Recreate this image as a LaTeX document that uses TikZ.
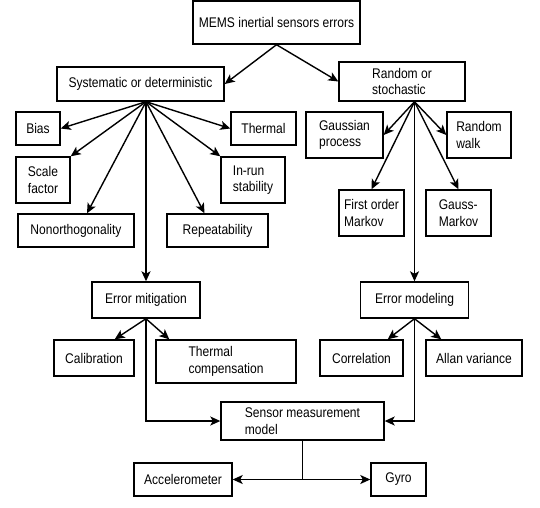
\documentclass[tikz,border=0pt]{standalone}
\usepackage{fontspec}
\setmainfont{Liberation Sans}[FakeStretch=0.86]
\usetikzlibrary{arrows.meta}
\begin{document}
\begin{tikzpicture}[x=1pt,y=-1pt,
  box/.style={draw, line width=1.4pt, inner sep=0pt, align=left, font=\fontsize{14}{16.5}\selectfont},
  conn/.style={line width=1.4pt},
  arr/.style={conn, -{Stealth[length=10pt,width=9pt,inset=2.5pt]}}]
\useasboundingbox (0,0) rectangle (540,507);
% nodes
\node[box, minimum width=167, minimum height=43] (top) at (276.5,22.5) {MEMS inertial sensors errors};
\node[box, minimum width=167, minimum height=34] (sys) at (140.5,84) {Systematic or deterministic};
\node[box, minimum width=126, minimum height=39] (rand) at (402,81.5) {Random or\\stochastic};
\node[box, minimum width=44, minimum height=33] (bias) at (38,128.5) {Bias};
\node[box, minimum width=65, minimum height=33] (therm) at (263.5,128.5) {Thermal};
\node[box, minimum width=54, minimum height=46] (scale) at (43,180) {Scale\\factor};
\node[box, minimum width=64, minimum height=46] (inrun) at (253,180) {In-run\\stability};
\node[box, minimum width=116, minimum height=33] (nonorth) at (76,230.5) {Nonorthogonality};
\node[box, minimum width=101, minimum height=33] (rep) at (217.5,230.5) {Repeatability};
\node[box, minimum width=77, minimum height=46] (gauss) at (344.5,135) {Gaussian\\process};
\node[box, minimum width=64, minimum height=46] (rwalk) at (479,135) {Random\\walk};
\node[box, minimum width=65, minimum height=46] (fom) at (371.5,213) {First order\\Markov};
\node[box, minimum width=65, minimum height=46] (gm) at (458.5,213) {Gauss-\\Markov};
\node[box, minimum width=108, minimum height=36] (mitig) at (146,300) {Error mitigation};
\node[box, minimum width=108, minimum height=36] (model) at (414.5,300) {Error modeling};
\node[box, minimum width=80, minimum height=36] (calib) at (94,358) {Calibration};
\node[box, minimum width=140, minimum height=43] (thcomp) at (226,361.5) {Thermal\\compensation};
\node[box, minimum width=83, minimum height=36] (corr) at (361.5,358) {Correlation};
\node[box, minimum width=96, minimum height=36] (allan) at (474,358) {Allan variance};
\node[box, minimum width=163, minimum height=38] (sensor) at (302.5,421) {Sensor measurement\\model};
\node[box, minimum width=98, minimum height=33] (accel) at (183,479.5) {Accelerometer};
\node[box, minimum width=55, minimum height=33] (gyro) at (398.5,479.5) {Gyro};
% connectors
\draw[arr] (top.south) -- (sys.east);
\draw[arr] (top.south) -- (rand.west);
\coordinate (sf) at ([xshift=5.5pt]sys.south);
\draw[arr] (sf) -- (bias.east);
\draw[arr] (sf) -- (scale.north east);
\draw[arr] (sf) -- ([xshift=11pt]nonorth.north);
\draw[arr] (sf) -- ([xshift=-13pt]rep.north);
\draw[arr] (sf) -- (inrun.north west);
\draw[arr] (sf) -- (therm.west);
\draw[arr] (sf) -- (mitig.north);
\coordinate (rf) at ([xshift=12.5pt]rand.south);
\draw[arr] (rf) -- (gauss.east);
\draw[arr] (rf) -- (rwalk.west);
\draw[arr] (rf) -- (fom.north);
\draw[arr] (rf) -- (gm.north);
\draw[arr] (rf) -- (model.north);
\draw[arr] (mitig.south) -- ([xshift=-20pt]calib.north east);
\draw[arr] (mitig.south) -- ([xshift=14pt]thcomp.north west);
\draw[arr] (mitig.south) |- (sensor.west);
\draw[arr] (model.south) -- ([xshift=-16pt]corr.north east);
\draw[arr] (model.south) -- ([xshift=16pt]allan.north west);
\draw[arr] (model.south) |- (sensor.east);
\coordinate (split) at (sensor.south |- accel.east);
\draw[conn] (sensor.south) -- (split);
\draw[arr] (split) -- (accel.east);
\draw[arr] (split) -- (gyro.west);
\end{tikzpicture}
\end{document}
